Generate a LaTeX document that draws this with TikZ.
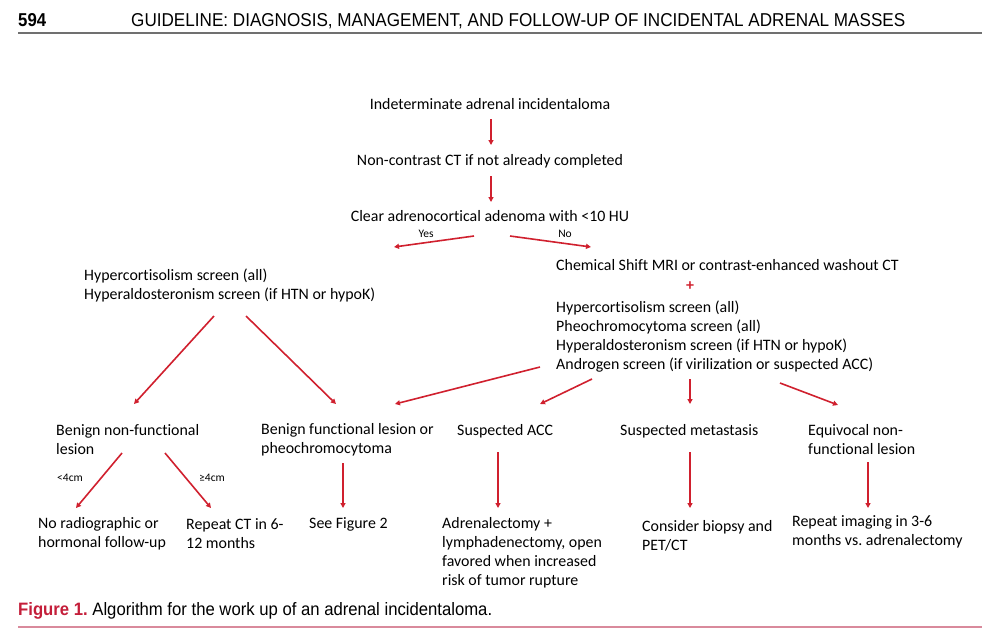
\documentclass[tikz,border=0pt]{standalone}
\usepackage{fontspec}
\setmainfont{Carlito}[Ligatures=NoCommon]
\newfontfamily\hfont{Liberation Sans}
\usetikzlibrary{arrows.meta}
\definecolor{arr}{HTML}{D0202E}
\definecolor{figred}{HTML}{C41E3A}
\definecolor{rulegray}{HTML}{707070}
\definecolor{rulepink}{HTML}{D98A9C}
\frenchspacing
\begin{document}
\begin{tikzpicture}[x=1pt,y=-1pt,
  txt/.style={inner sep=0pt,font=\fontsize{15.9}{19}\selectfont,align=left},
  ctxt/.style={inner sep=0pt,font=\fontsize{15.9}{19}\selectfont,align=center},
  small/.style={inner sep=0pt,font=\fontsize{11.5}{13}\selectfont},
  flow/.style={draw=arr,line width=1.6pt,-{Triangle[length=5pt,width=5pt]}}]
\useasboundingbox (0,0) rectangle (1000,638);
% header
\node[inner sep=0pt,anchor=base west] (pg) at (18,26) {\resizebox{28pt}{13pt}{\hfont\bfseries 594}};
\node[inner sep=0pt,anchor=base west] (hd) at (131,26) {\resizebox{774pt}{13pt}{\hfont GUIDELINE: DIAGNOSIS, MANAGEMENT, AND FOLLOW-UP OF INCIDENTAL ADRENAL MASSES}};
\draw[rulegray,line width=2pt] (18,33) -- (982,33);
% caption
\node[inner sep=0pt,anchor=base west] (cap) at (18,615) {\resizebox{474pt}{13pt}{\hfont{\color{figred}\bfseries Figure 1.} Algorithm for the work up of an adrenal incidentaloma.}};
\draw[rulepink,line width=2pt] (18,627) -- (982,627);
% top chain
\node[ctxt] (n1) at (490,104) {Indeterminate adrenal incidentaloma};
\node[ctxt] (n2) at (490,161) {Non-contrast CT if not already completed};
\node[ctxt] (n3) at (490,216) {Clear adrenocortical adenoma with <10 HU};
\coordinate (a1s) at (491,119); \coordinate (a1e) at (491,145);
\coordinate (a2s) at (491,176); \coordinate (a2e) at (491,202);
\draw[flow] (a1s) -- (a1e);
\draw[flow] (a2s) -- (a2e);
% yes / no
\coordinate (ys) at (474,236); \coordinate (ye) at (394,247);
\coordinate (ns) at (510,236); \coordinate (ne) at (591,247);
\draw[flow] (ys) -- (ye);
\draw[flow] (ns) -- (ne);
\node[small] (yes) at (426,234) {Yes};
\node[small] (no) at (565,234) {No};
% left screen
\node[txt,anchor=west] (l1) at (84,285) {Hypercortisolism screen (all)\\Hyperaldosteronism screen (if HTN or hypoK)};
% right
\node[txt,anchor=west] (r0) at (556,265) {Chemical Shift MRI or contrast-enhanced washout CT};
\node[inner sep=0pt,text=arr,font=\fontsize{15.9}{19}\selectfont\bfseries] (plus) at (690,286) {+};
\node[txt,anchor=west] (r1) at (556,336.5) {Hypercortisolism screen (all)\\Pheochromocytoma screen (all)\\Hyperaldosteronism screen (if HTN or hypoK)\\Androgen screen (if virilization or suspected ACC)};
% middle row
\node[txt,anchor=west] (m1) at (56,439.5) {Benign non-functional\\lesion};
\node[txt,anchor=west] (m2) at (261,439.5) {Benign functional lesion or\\pheochromocytoma};
\node[txt,anchor=west] (m3) at (457,431) {Suspected ACC};
\node[txt,anchor=west] (m4) at (620,431) {Suspected metastasis};
\node[txt,anchor=west] (m5) at (808,439.5) {Equivocal non-\\functional lesion};
% arrows to middle row
\draw[flow] (214,316) coordinate (b1s) -- (134,404) coordinate (b1e);
\draw[flow] (246,316) coordinate (b2s) -- (336,404) coordinate (b2e);
\draw[flow] (540,367) coordinate (b3s) -- (395,404) coordinate (b3e);
\draw[flow] (592,379) coordinate (b4s) -- (540,404) coordinate (b4e);
\draw[flow] (690,379) coordinate (b5s) -- (690,404) coordinate (b5e);
\draw[flow] (780,383) coordinate (b6s) -- (838,405) coordinate (b6e);
% bottom row
\node[txt,anchor=west] (o1) at (38,533.5) {No radiographic or\\hormonal follow-up};
\node[txt,anchor=west] (o2) at (186,533.5) {Repeat CT in 6-\\12 months};
\node[txt,anchor=west] (o3) at (309,524) {See Figure 2};
\node[txt,anchor=west] (o4) at (442,552.5) {Adrenalectomy +\\lymphadenectomy, open\\favored when increased\\risk of tumor rupture};
\node[txt,anchor=west] (o5) at (642,535.5) {Consider biopsy and\\PET/CT};
\node[txt,anchor=west] (o6) at (792,531.5) {Repeat imaging in 3-6\\months vs. adrenalectomy};
% lower arrows
\draw[flow] (122,453) coordinate (c1s) -- (76,508) coordinate (c1e);
\draw[flow] (165,453) coordinate (c2s) -- (211,508) coordinate (c2e);
\node[small] (lt) at (70,478) {<4cm};
\node[small] (ge) at (212,478) {≥4cm};
\draw[flow] (343,463) coordinate (c3s) -- (343,508) coordinate (c3e);
\draw[flow] (498,452) coordinate (c4s) -- (498,508) coordinate (c4e);
\draw[flow] (690,452) coordinate (c5s) -- (690,508) coordinate (c5e);
\draw[flow] (868,462) coordinate (c6s) -- (868,508) coordinate (c6e);
\end{tikzpicture}
\end{document}
